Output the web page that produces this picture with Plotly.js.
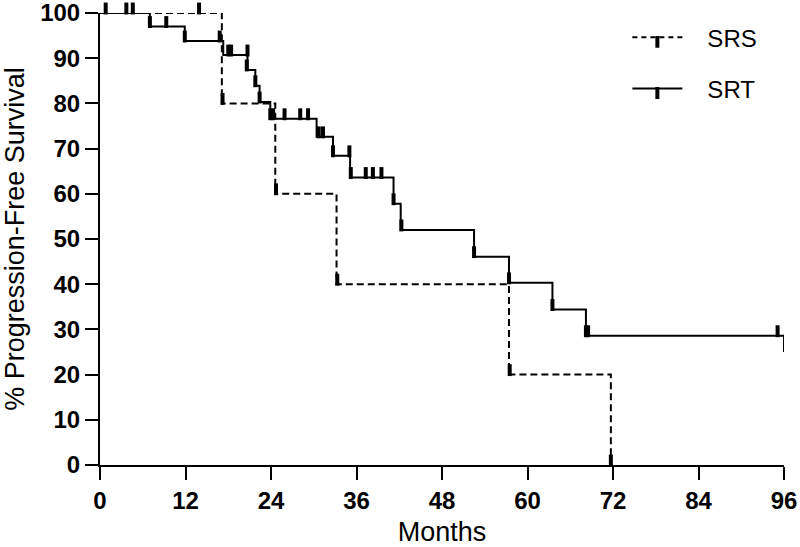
<!DOCTYPE html>
<html>
<head>
<meta charset="utf-8">
<script src="https://cdn.plot.ly/plotly-3.0.1.min.js"></script>
<style>html,body{margin:0;padding:0;background:#fff}#chart{width:800px;height:547px}</style>
</head>
<body>
<div id="chart"></div>
<script>
// ---- data (months, % progression-free survival) ----
var srsTimes = [0, 17.1, 24.6, 33.2, 57.4, 71.7];
var srsSurv  = [100, 80, 60, 40, 20, 0];
var srsCensorTimes = [13.9, 17.2, 24.7, 33.3, 57.5, 71.7];
var srsCensorSurv  = [100, 80, 60, 40, 20, 0];

var srtTimes = [0, 7.0, 11.9, 17.3, 20.7, 21.8, 22.4, 23.9, 30.4, 32.7, 35.1, 41.2, 42.2, 52.5, 57.4, 63.5, 68.2, 96];
var srtSurv  = [100, 97.0, 93.8, 90.7, 87.4, 83.9, 80.3, 76.6, 72.6, 68.4, 63.6, 57.8, 52.0, 46.1, 40.3, 34.4, 28.6, 25.0];
var srtCensorTimes = [0.8, 3.7, 4.6, 7.0, 9.3, 11.9, 16.8, 18.0, 18.4, 20.7, 20.6, 21.8, 22.4, 23.9, 24.3, 25.9, 28.1, 29.2, 30.7, 31.3, 32.7, 35.0, 35.2, 37.3, 38.3, 39.5, 41.2, 42.3, 52.5, 57.4, 63.5, 68.2, 68.5, 95.1];
var srtCensorSurv  = [100, 100, 100, 97.0, 97.0, 93.8, 93.8, 90.7, 90.7, 90.7, 87.4, 83.9, 80.3, 76.6, 76.6, 76.6, 76.6, 76.6, 72.6, 72.6, 68.4, 68.4, 63.6, 63.6, 63.6, 63.6, 57.8, 52.0, 46.1, 40.3, 34.4, 28.6, 28.6, 28.6];

var seriesNames = ['SRS', 'SRT'];
var xTicks = [0, 12, 24, 36, 48, 60, 72, 84, 96];
var yTicks = [0, 10, 20, 30, 40, 50, 60, 70, 80, 90, 100];

var FONT = 'Liberation Sans, Arial, Helvetica, sans-serif';
var dashStyle = '7px,4px';
var censorMarker = {symbol: 'line-ns-open', size: 8.5, angle: 180, standoff: 4.5, color: '#000', line: {width: 4, color: '#000'}};
var NB = '\u00a0\u00a0\u00a0';

var traces = [
  {x: srsTimes, y: srsSurv, mode: 'lines', line: {shape: 'hv', color: '#000', width: 2, dash: dashStyle}, showlegend: false, hoverinfo: 'skip'},
  {x: srsCensorTimes, y: srsCensorSurv, mode: 'markers', marker: censorMarker, showlegend: false, cliponaxis: false},
  {x: srtTimes, y: srtSurv, mode: 'lines', line: {shape: 'hv', color: '#000', width: 2}, showlegend: false, hoverinfo: 'skip'},
  {x: srtCensorTimes, y: srtCensorSurv, mode: 'markers', marker: censorMarker, showlegend: false, cliponaxis: false},
  // legend entries
  {x: [null], y: [null], name: NB + seriesNames[0], legendgroup: 'a', mode: 'lines+markers', line: {color: '#000', width: 2, dash: '5px,4px'}, marker: censorMarker},
  {x: [null], y: [null], name: NB + seriesNames[1], legendgroup: 'b', mode: 'lines+markers', line: {color: '#000', width: 2}, marker: censorMarker}
];

var layout = {
  width: 800, height: 547,
  margin: {l: 100, r: 16, t: 13, b: 82},
  paper_bgcolor: '#fff', plot_bgcolor: '#fff',
  font: {family: FONT, color: '#000'},
  showlegend: true,
  legend: {x: 0.771, y: 0.995, xanchor: 'left', yanchor: 'top', font: {size: 24, family: FONT}, itemwidth: 50, traceorder: 'grouped', tracegroupgap: 17, bgcolor: 'rgba(0,0,0,0)'},
  xaxis: {
    range: [0, 96], tickvals: xTicks, ticktext: xTicks.map(String),
    showline: true, linecolor: '#000', linewidth: 2, mirror: false,
    ticks: 'outside', ticklen: 13, tickwidth: 2, tickcolor: '#000',
    showgrid: false, zeroline: false, ticklabeloverflow: 'allow',
    tickfont: {size: 24, family: FONT, weight: 'bold'},
    title: {text: 'Months', font: {size: 27, family: FONT}, standoff: 17}
  },
  yaxis: {
    range: [0, 100], tickvals: yTicks, ticktext: yTicks.map(String),
    showline: true, linecolor: '#000', linewidth: 2, mirror: false,
    ticks: 'outside', ticklen: 13, tickwidth: 2, tickcolor: '#000',
    showgrid: false, zeroline: false, ticklabeloverflow: 'allow',
    tickfont: {size: 24, family: FONT, weight: 'bold'},
    title: {text: '% Progression-Free Survival', font: {size: 27, family: FONT}, standoff: 8}
  }
};

Plotly.newPlot('chart', traces, layout, {staticPlot: true, displayModeBar: false});
</script>
</body>
</html>
